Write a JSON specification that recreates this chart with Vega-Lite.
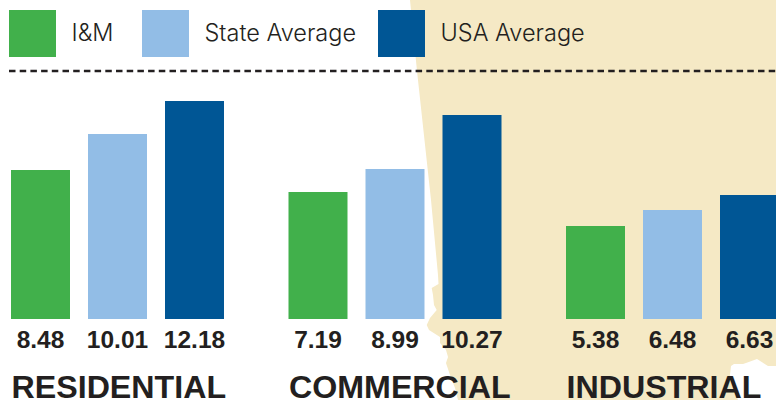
{
"$schema":"https://vega.github.io/schema/vega-lite/v6.json",
"width":776,"height":400,"padding":0,"autosize":{"type":"none"},
"background":"white",
"config":{"view":{"stroke":null},"font":"Liberation Sans"},
"datasets":{
"bars":[
{"group":"RESIDENTIAL","series":"I&M","value":"8.48","drawn":149},
{"group":"RESIDENTIAL","series":"State Average","value":"10.01","drawn":185},
{"group":"RESIDENTIAL","series":"USA Average","value":"12.18","drawn":218},
{"group":"COMMERCIAL","series":"I&M","value":"7.19","drawn":127},
{"group":"COMMERCIAL","series":"State Average","value":"8.99","drawn":150},
{"group":"COMMERCIAL","series":"USA Average","value":"10.27","drawn":204},
{"group":"INDUSTRIAL","series":"I&M","value":"5.38","drawn":93},
{"group":"INDUSTRIAL","series":"State Average","value":"6.48","drawn":109},
{"group":"INDUSTRIAL","series":"USA Average","value":"6.63","drawn":124}
],
"land":[
{"piece":"main","left":410,"right":776,"y":0},{"piece":"main","left":417,"right":776,"y":71},{"piece":"main","left":431,"right":776,"y":200},{"piece":"main","left":438,"right":776,"y":275},{"piece":"main","left":438.5,"right":776,"y":284},{"piece":"main","left":431.7,"right":776,"y":288},{"piece":"main","left":433,"right":776,"y":295},{"piece":"main","left":434,"right":776,"y":305},{"piece":"main","left":436.7,"right":776,"y":310},{"piece":"main","left":430,"right":776,"y":318},{"piece":"main","left":426.7,"right":776,"y":325},{"piece":"main","left":429,"right":776,"y":330},{"piece":"main","left":440,"right":776,"y":337},{"piece":"main","left":440,"right":776,"y":343},{"piece":"main","left":446,"right":776,"y":350},{"piece":"main","left":448,"right":776,"y":357},{"piece":"main","left":447.4,"right":776,"y":358.9},{"piece":"main","left":447.3,"right":757,"y":359},{"piece":"main","left":446,"right":746,"y":363},{"piece":"main","left":446.3,"right":743,"y":363.9},{"piece":"main","left":446.3,"right":734,"y":364},{"piece":"main","left":447,"right":731,"y":366},{"piece":"main","left":450,"right":730,"y":375},{"piece":"main","left":455,"right":734,"y":388},{"piece":"main","left":458,"right":738,"y":400},
{"piece":"east","left":757,"right":776,"y":359},{"piece":"east","left":768,"right":776,"y":366},{"piece":"east","left":776,"right":776,"y":366.1}
],
"divider":[{"from":9,"to":776,"y":71}]
},
"resolve":{"scale":{"x":"independent","y":"independent"}},
"layer":[
{"data":{"name":"land"},"mark":{"type":"area","orient":"horizontal","fill":"#f5e9c5"},
 "encoding":{"detail":{"field":"piece","type":"nominal"},"y":{"field":"y","type":"quantitative","axis":null,"scale":{"domain":[0,400],"range":[0,400]}},
 "x":{"field":"left","type":"quantitative","axis":null,"scale":{"domain":[0,776],"range":[0,776]}},"x2":{"field":"right","type":"quantitative"}}},
{"data":{"name":"divider"},"mark":{"type":"rule","color":"#231f20","strokeWidth":2.4,"strokeDash":[6.5,4.2]},
 "encoding":{"y":{"field":"y","type":"quantitative","axis":null,"scale":{"domain":[0,400],"range":[0,400]}},
 "x":{"field":"from","type":"quantitative","axis":null,"scale":{"domain":[0,776],"range":[0,776]}},"x2":{"field":"to"}}},
{"data":{"name":"bars"},
 "encoding":{
  "x":{"field":"group","type":"nominal","axis":null,"sort":null,"scale":{"domain":["RESIDENTIAL","COMMERCIAL","INDUSTRIAL"],"range":[-21,811.5],"paddingInner":0,"paddingOuter":0}},
  "xOffset":{"field":"series","type":"nominal","sort":null,"scale":{"domain":["I&M","State Average","USA Average"],"range":[23,254],"paddingInner":0.2338,"paddingOuter":0.1169}}
 },
 "layer":[
  {"mark":{"type":"bar"},
   "encoding":{
    "y":{"field":"drawn","type":"quantitative","axis":null,"scale":{"domain":[-81,319],"range":[400,0]}},
    "color":{"field":"series","type":"nominal","sort":null,
      "scale":{"domain":["I&M","State Average","USA Average"],"range":["#41b04b","#92bde6","#005695"]},
      "legend":{"title":null,"orient":"none","legendX":9,"legendY":10,"direction":"horizontal","columns":3,"padding":0,
        "symbolType":"square","symbolSize":2209,"symbolStrokeWidth":0,"symbolOpacity":1,
        "labelFontSize":23.5,"labelFont":"Inter","labelFontWeight":300,"labelColor":"#231f20","labelOffset":15.5,"labelLimit":300,"columnPadding":21,
        "labelExpr":"datum.label=='I&M'?'I&M\u00a0\u200b':datum.label"}}
   }},
  {"mark":{"type":"text","align":"center","baseline":"alphabetic","dy":28.5,"fontSize":24.5,"fontWeight":"bold","color":"#231f20"},
   "encoding":{"y":{"datum":0,"type":"quantitative","scale":{"domain":[-81,319],"range":[400,0]},"axis":null},"text":{"field":"value","type":"nominal"}}},
  {"transform":[{"filter":"datum.series=='I&M'"}],
   "mark":{"type":"text","align":"left","baseline":"alphabetic","dx":-29,"dy":79,"fontSize":32.2,"fontWeight":"bold","color":"#231f20"},
   "encoding":{"y":{"datum":0,"type":"quantitative","scale":{"domain":[-81,319],"range":[400,0]},"axis":null},"text":{"field":"group","type":"nominal"}}}
 ]}
]
}
